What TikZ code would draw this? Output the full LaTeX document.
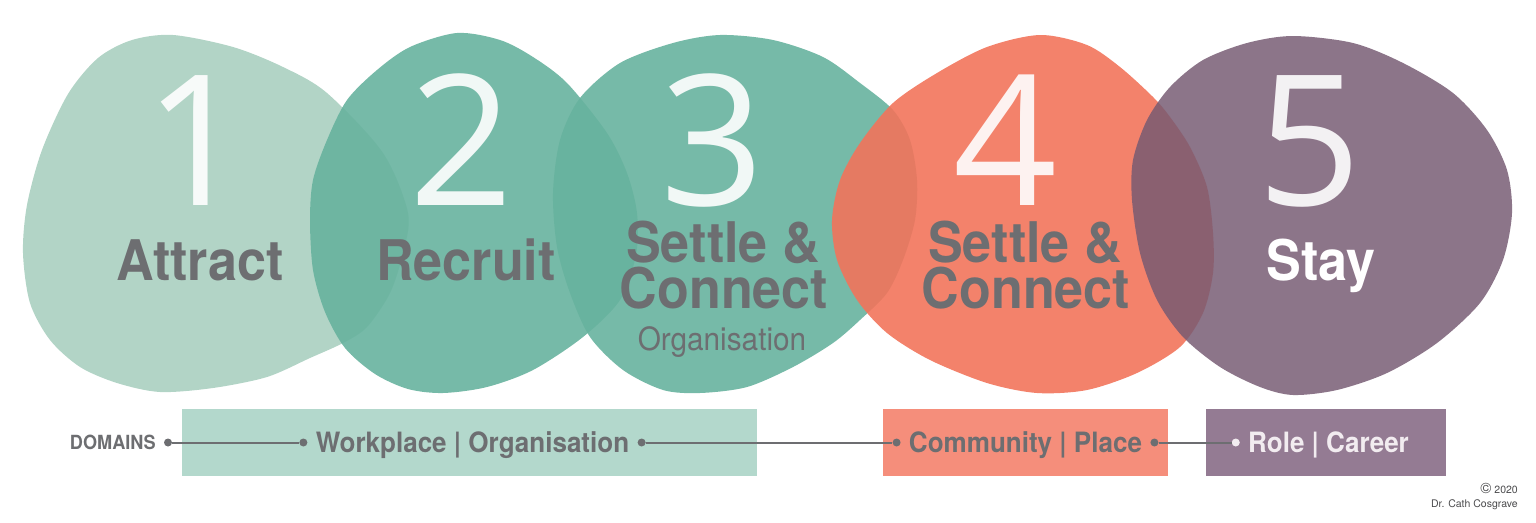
\documentclass[tikz,border=0pt]{standalone}
\usepackage{fontspec}
\setmainfont{TeX Gyre Heros}
\newfontfamily\labelfont[FakeStretch=0.93]{TeX Gyre Heros}
\newfontfamily\digitfont{Open Sans}
\usetikzlibrary{positioning}
\definecolor{blobsage}{HTML}{B2D4C6}
\definecolor{blobteal}{HTML}{67B29E}
\definecolor{blobcoral}{HTML}{F2745B}
\definecolor{blobplum}{HTML}{765A72}
\definecolor{inkgray}{HTML}{6D6E71}
\definecolor{notegray}{HTML}{4A4A4C}
\definecolor{barsage}{HTML}{B3D8CC}
\definecolor{barcoral}{HTML}{F58E7B}
\definecolor{barplum}{HTML}{947B93}
\definecolor{paleink}{HTML}{F2ECF0}
\tikzset{
  stage/.style={anchor=base, inner sep=0pt, text height=41pt, text depth=0pt, text=inkgray, font=\labelfont\bfseries\fontsize{56}{56}\selectfont},
  digit/.style={anchor=base, inner sep=0pt, text height=132pt, text depth=0pt, text=white, text opacity=0.9, font=\digitfont\fontsize{182}{182}\selectfont},
  bar/.style={rectangle, inner sep=0pt, minimum height=67pt},
  domaintag/.style={inner sep=0pt, text height=20pt, text depth=0pt, text=inkgray, font=\labelfont\bfseries\fontsize{28}{28}\selectfont},
  dot/.style={circle, fill=inkgray, inner sep=0pt, minimum size=8pt},
  link/.style={draw=inkgray, line width=2pt},
}
\begin{document}
\begin{tikzpicture}[x=1pt, y=-1pt]
\useasboundingbox (0,0) rectangle (1536,522);

\begin{scope}
    \fill[blobsage] plot[smooth cycle] coordinates {(173,35) (233,47) (283,67) (327,93) (383,153) (408,213) (403,253) (390,293) (367,327) (343,343) (310,358) (267,377) (213,388) (160,392) (117,383) (80,367) (50,340) (30,303) (23,253) (27,205) (42,150) (68,94) (98,58) (132,40)};
    \fill[blobteal, fill opacity=0.9] plot[smooth cycle] coordinates {(457,33) (500,40) (533,57) (567,83) (607,133) (627,173) (637,213) (636,255) (620,300) (583,337) (533,370) (487,387) (443,393) (408,389) (375,374) (345,348) (325,312) (313,270) (310,220) (313,180) (327,140) (347,100) (377,70) (410,47)};
    \fill[blobteal, fill opacity=0.9] plot[smooth cycle] coordinates {(720,35) (773,40) (823,57) (860,83) (893,110) (910,140) (917,180) (915,220) (903,260) (887,293) (860,320) (833,343) (793,367) (747,387) (700,393) (663,390) (623,370) (590,337) (570,293) (557,247) (553,193) (560,140) (580,98) (620,63) (673,43)};
    \fill[blobcoral, fill opacity=0.9] plot[smooth cycle] coordinates {(1040,35) (1087,45) (1120,67) (1153,97) (1170,117) (1190,147) (1207,187) (1213,233) (1213,273) (1203,313) (1180,347) (1137,373) (1087,390) (1037,393) (987,383) (930,360) (887,333) (857,300) (837,260) (832,220) (840,180) (860,143) (893,103) (937,73) (987,47)};
    \fill[blobplum, fill opacity=0.84] plot[smooth cycle] coordinates {(1293,36) (1353,43) (1403,63) (1453,93) (1487,130) (1507,170) (1512,213) (1503,260) (1480,303) (1437,343) (1387,373) (1337,390) (1293,395) (1260,387) (1220,367) (1183,337) (1157,300) (1140,253) (1132,200) (1133,160) (1147,120) (1170,87) (1203,60) (1247,43)};
\end{scope}

\begin{scope}
    \node[digit] (n1) at (197,205) {1};
    \node[digit] (n2) at (462,205) {2};
    \node[digit] (n3) at (713,205) {3};
    \node[digit] (n4) at (1006,205) {4};
    \node[digit] (n5) at (1310,205) {5};

    \node[stage] (attract) at (200,280) {Attract};
    \node[stage] (recruit) at (466,280) {Recruit};
    \node[stage] (settleA) at (723,262) {Settle \&};
    \node[stage] (connectA) at (724,308) {Connect};
    \node[anchor=base, inner sep=0pt, text=inkgray, font=\labelfont\fontsize{32}{32}\selectfont] (orgsub) at (722,350) {Organisation};
    \node[stage] (settleB) at (1025,262) {Settle \&};
    \node[stage] (connectB) at (1026,308) {Connect};
    \node[stage, text=white] (stay) at (1321,280) {Stay};
\end{scope}

\begin{scope}
    \node[bar, fill=barsage, minimum width=575pt] (wpbar) at (469.5,442.5) {};
    \node[bar, fill=barcoral, minimum width=285pt] (cobar) at (1025.5,442.5) {};
    \node[bar, fill=barplum, minimum width=240pt] (robar) at (1325.5,442.5) {};

    \node[domaintag] (wp) at ([xshift=3pt]wpbar) {Workplace \textbar{} Organisation};
    \node[domaintag] (co) at (cobar) {Community \textbar{} Place};
    \node[domaintag, text=paleink] (ro) at ([xshift=3pt]robar) {Role \textbar{} Career};

    \node[dot] (domdot) at (168,442.5) {};
    \node[domaintag, text height=14pt, font=\labelfont\bfseries\fontsize{19.5}{19.5}\selectfont, left=8pt of domdot] (dom) {DOMAINS};
    \node[dot, left=8pt of wp] (wpL) {};
    \node[dot, right=8pt of wp] (wpR) {};
    \node[dot, left=8pt of co] (coL) {};
    \node[dot, right=8pt of co] (coR) {};
    \node[dot, fill=paleink, left=8pt of ro] (roL) {};
\end{scope}

\begin{scope}
    \path[link] (domdot) edge (wpL);
    \path[link] (wpR) edge (coL);
    \path[link] (coR) edge (roL);
\end{scope}

\node[anchor=base east, inner sep=0pt, text=notegray, font=\fontsize{10.5}{10.5}\selectfont] (year) at (1518,493) {{\fontsize{15}{15}\selectfont\textcopyright} 2020};
\node[anchor=base east, inner sep=0pt, text=notegray, font=\fontsize{10.5}{10.5}\selectfont] (author) at (1518,507) {Dr. Cath Cosgrave};
\end{tikzpicture}
\end{document}
